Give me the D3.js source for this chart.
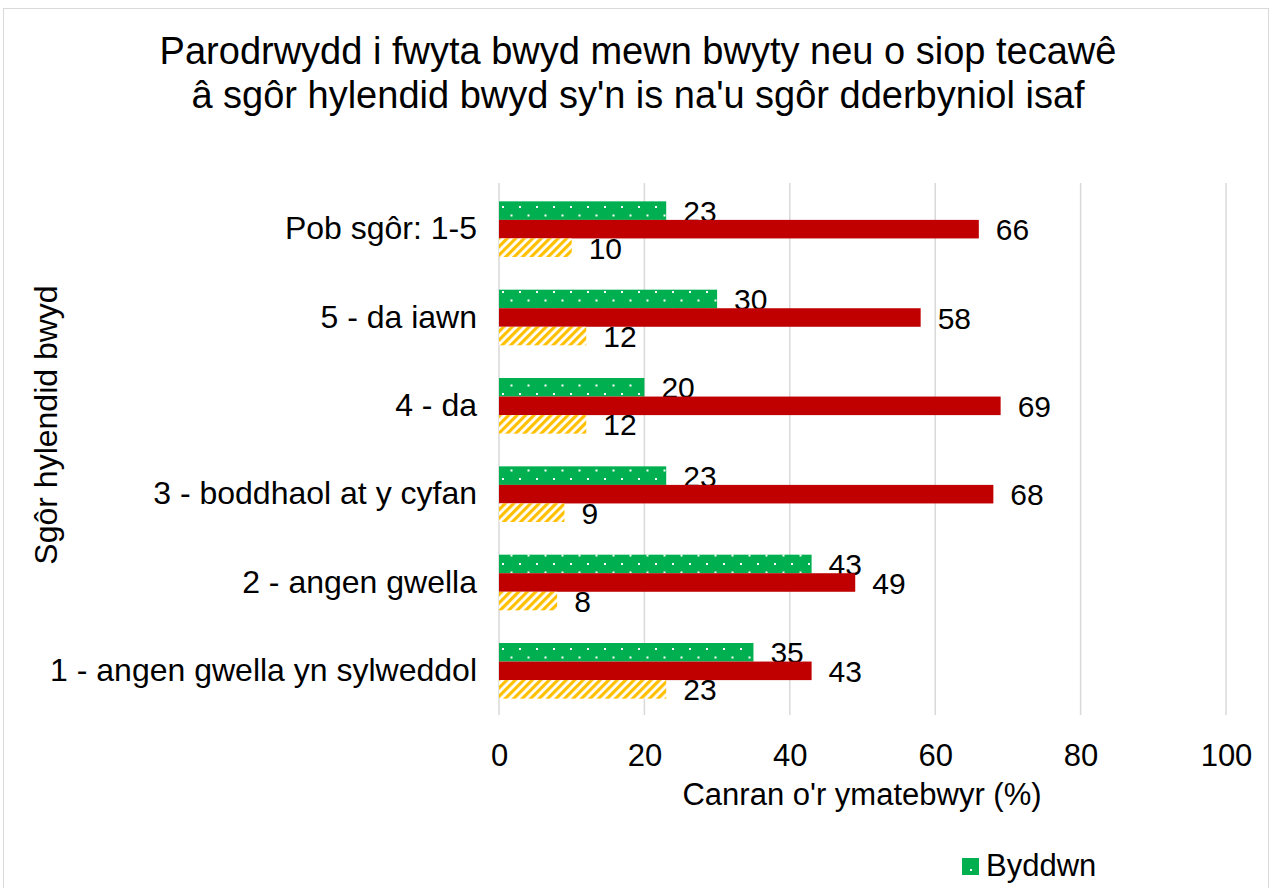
<!DOCTYPE html>
<html>
<head>
<meta charset="utf-8">
<script src="https://cdn.jsdelivr.net/npm/d3@7"></script>
<style>
  body { margin: 0; background: #fff; }
  text { font-family: 'Liberation Sans', Arial, sans-serif; fill: #000; }
</style>
</head>
<body>
<svg width="1272" height="888"></svg>
<script>
      const categories = ['Pob sgôr: 1-5', '5 - da iawn', '4 - da', '3 - boddhaol at y cyfan', '2 - angen gwella', '1 - angen gwella yn sylweddol'];
      const seriesNames = ['Byddwn', 'Na fyddwn', 'Ddim yn gwybod'];
      const byddwn = [23, 30, 20, 23, 43, 35];
      const naFyddwn = [66, 58, 69, 68, 49, 43];
      const ddimYnGwybod = [10, 12, 12, 9, 8, 23];
      const xTicks = [0, 20, 40, 60, 80, 100];
      const titleLines = ['Parodrwydd i fwyta bwyd mewn bwyty neu o siop tecawê', 'â sgôr hylendid bwyd sy\'n is na\'u sgôr dderbyniol isaf'];
      const xLabel = 'Canran o\'r ymatebwyr (%)';
      const yLabel = 'Sgôr hylendid bwyd';

      const margin = { left: 499, right: 46, top: 185, bottom: 173 };
      const svg = d3.select('svg');
      const width = +svg.attr('width');
      const height = +svg.attr('height');
      const innerWidth = width - margin.left - margin.right;
      const innerHeight = height - margin.top - margin.bottom;
      const font = "'Liberation Sans', Arial, sans-serif";

      // patterns
      const defs = svg.append('defs');
      const dots = defs.append('pattern')
          .attr('id', 'dots')
          .attr('patternUnits', 'userSpaceOnUse')
          .attr('width', 17).attr('height', 17);
      dots.append('rect').attr('width', 17).attr('height', 17).attr('fill', '#00b050');
      dots.append('rect').attr('x', 3).attr('y', 4).attr('width', 2).attr('height', 2).attr('fill', '#fff');
      dots.append('rect').attr('x', 11.5).attr('y', 12.5).attr('width', 2).attr('height', 2).attr('fill', '#fff');

      const stripes = defs.append('pattern')
          .attr('id', 'stripes')
          .attr('patternUnits', 'userSpaceOnUse')
          .attr('width', 6).attr('height', 6)
          .attr('patternTransform', 'rotate(45)');
      stripes.append('rect').attr('width', 6).attr('height', 6).attr('fill', '#fff');
      stripes.append('rect').attr('width', 3.2).attr('height', 6).attr('fill', '#ffc000');

      // outer frame (bottom edge runs past the picture)
      svg.append('rect')
          .attr('x', 3.5).attr('y', 8.5)
          .attr('width', 1265).attr('height', 900)
          .attr('fill', 'none')
          .attr('stroke', '#d9d9d9')
          .attr('stroke-width', 1);

      // title
      svg.append('text')
          .attr('x', 638).attr('y', 64)
          .attr('text-anchor', 'middle')
          .attr('font-size', 38)
          .selectAll('tspan')
          .data(titleLines)
          .enter().append('tspan')
          .attr('x', 638)
          .attr('dy', (d, i) => i === 0 ? 0 : 44)
          .text(d => d);

      const g = svg.append('g')
          .attr('transform', `translate(${margin.left},${margin.top})`);

      const xScale = d3.scaleLinear().domain([0, 100]).range([0, innerWidth]);
      const yScale = d3.scaleBand().domain(categories).range([0, innerHeight]).paddingInner(0.37).paddingOuter(0.185);
      const subScale = d3.scaleBand().domain(seriesNames).range([0, yScale.bandwidth()]);

      // gridlines
      g.selectAll('.grid').data(xTicks).enter().append('line')
          .attr('x1', d => xScale(d)).attr('x2', d => xScale(d))
          .attr('y1', -2).attr('y2', innerHeight)
          .attr('stroke', '#d9d9d9')
          .attr('stroke-width', 1.5);

      const xAxis = d3.axisBottom(xScale).tickValues(xTicks).tickSize(0).tickPadding(29);
      const xAxisG = g.append('g').attr('transform', `translate(0,${innerHeight})`).call(xAxis);
      xAxisG.select('.domain').remove();
      xAxisG.selectAll('text').attr('font-size', 31).attr('font-family', font).attr('fill', '#000');

      const yAxis = d3.axisLeft(yScale).tickSize(0).tickPadding(22);
      const yAxisG = g.append('g').call(yAxis);
      yAxisG.select('.domain').remove();
      yAxisG.selectAll('text').attr('font-size', 32).attr('font-family', font).attr('fill', '#000');

      // axis titles
      svg.append('text')
          .attr('x', 862).attr('y', 805)
          .attr('text-anchor', 'middle')
          .attr('font-size', 31)
          .text(xLabel);
      svg.append('text')
          .attr('transform', 'translate(57,425) rotate(-90)')
          .attr('text-anchor', 'middle')
          .attr('font-size', 32)
          .text(yLabel);

      const seriesData = [
        { name: seriesNames[0], values: byddwn, fill: 'url(#dots)' },
        { name: seriesNames[1], values: naFyddwn, fill: '#c00000' },
        { name: seriesNames[2], values: ddimYnGwybod, fill: 'url(#stripes)' }
      ];

      seriesData.forEach(s => {
        const sg = g.append('g');
        sg.selectAll('rect').data(s.values).enter().append('rect')
            .attr('x', 0)
            .attr('y', (d, i) => yScale(categories[i]) + subScale(s.name))
            .attr('width', d => xScale(d))
            .attr('height', subScale.bandwidth())
            .attr('fill', s.fill);
        sg.selectAll('text').data(s.values).enter().append('text')
            .attr('x', d => xScale(d) + 17)
            .attr('y', (d, i) => yScale(categories[i]) + subScale(s.name) + subScale.bandwidth() / 2 + 11)
            .attr('font-size', 30)
            .text(d => d);
      });

      // legend (only the first entry lies inside the picture)
      const legend = svg.append('g').attr('transform', 'translate(962,858)');
      legend.append('rect').attr('width', 17).attr('height', 17).attr('fill', '#00b050');
      legend.append('rect').attr('x', 8).attr('y', 11).attr('width', 2).attr('height', 2).attr('fill', '#fff');
      legend.append('text').attr('x', 24).attr('y', 18).attr('font-size', 31).text(seriesNames[0]);
</script>
</body>
</html>
